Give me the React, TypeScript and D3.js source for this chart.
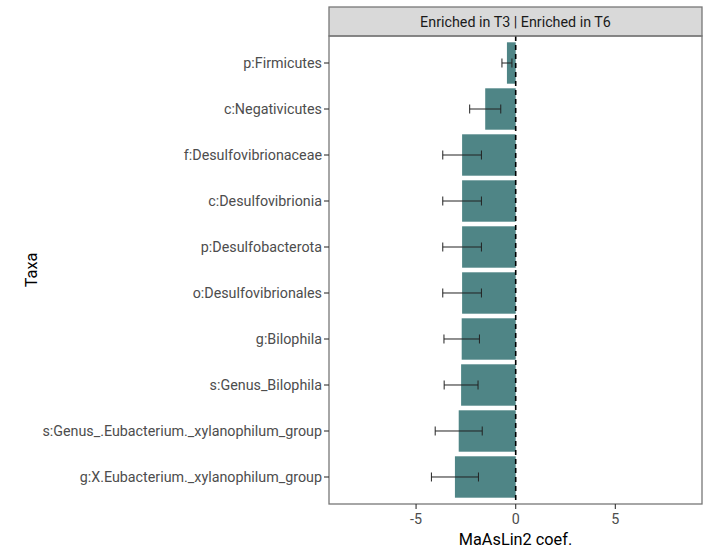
import React from "react";
import * as d3 from "d3";

const taxa = [
  "p:Firmicutes",
  "c:Negativicutes",
  "f:Desulfovibrionaceae",
  "c:Desulfovibrionia",
  "p:Desulfobacterota",
  "o:Desulfovibrionales",
  "g:Bilophila",
  "s:Genus_Bilophila",
  "s:Genus_.Eubacterium._xylanophilum_group",
  "g:X.Eubacterium._xylanophilum_group",
];
const coefs = [-0.44, -1.53, -2.69, -2.69, -2.69, -2.69, -2.71, -2.74, -2.86, -3.05];
const stderrs = [0.25, 0.78, 0.97, 0.97, 0.97, 0.97, 0.89, 0.85, 1.18, 1.18];
const xTicks = [-5, 0, 5];
const stripLabel = "Enriched in T3 | Enriched in T6";

const W = 710;
const H = 550;
const panel = { left: 329, right: 702, top: 36, bottom: 504 };
const strip = { top: 7, bottom: 36 };

export default function App() {
  const x = d3.scaleLinear().domain([-9.37, 9.35]).range([panel.left, panel.right]);
  const y = d3
    .scaleBand<string>()
    .domain(taxa)
    .range([panel.top, panel.bottom])
    .paddingInner(0.1)
    .paddingOuter(0.137);
  const bw = y.bandwidth();
  const font = "Roboto, 'Liberation Sans', Arial, sans-serif";
  const capH = 9;

  return (
    <svg width={W} height={H} style={{ position: "absolute", left: 0, top: 0 }} fontFamily={font}>
      <rect x={0} y={0} width={W} height={H} fill="#fff" />
      {/* strip */}
      <rect
        x={panel.left}
        y={strip.top}
        width={panel.right - panel.left}
        height={strip.bottom - strip.top}
        fill="#d9d9d9"
        stroke="#777"
        strokeWidth={1.3}
      />
      <text
        x={(panel.left + panel.right) / 2}
        y={(strip.top + strip.bottom) / 2}
        dy="0.36em"
        textAnchor="middle"
        fontSize={14.3}
        fill="#1a1a1a"
      >
        {stripLabel}
      </text>
      {/* bars */}
      {taxa.map((t, i) => {
        const x0 = x(Math.min(0, coefs[i]));
        const x1 = x(Math.max(0, coefs[i]));
        return (
          <rect key={t} x={x0} y={y(t)!} width={x1 - x0} height={bw} fill="#4f8586" />
        );
      })}
      {/* error bars */}
      {taxa.map((t, i) => {
        const cy = y(t)! + bw / 2;
        const lo = x(coefs[i] - stderrs[i]);
        const hi = x(coefs[i] + stderrs[i]);
        return (
          <g key={"e" + t} stroke="#222" strokeWidth={1}>
            <line x1={lo} x2={hi} y1={cy} y2={cy} />
            <line x1={lo} x2={lo} y1={cy - capH / 2} y2={cy + capH / 2} />
            <line x1={hi} x2={hi} y1={cy - capH / 2} y2={cy + capH / 2} />
          </g>
        );
      })}
      {/* zero line */}
      <line
        x1={x(0)}
        x2={x(0)}
        y1={panel.top}
        y2={panel.bottom}
        stroke="#000"
        strokeWidth={1.6}
        strokeDasharray="5,4"
      />
      {/* panel border */}
      <rect
        x={panel.left}
        y={panel.top}
        width={panel.right - panel.left}
        height={panel.bottom - panel.top}
        fill="none"
        stroke="#777"
        strokeWidth={1.3}
      />
      {/* y axis ticks & labels */}
      {taxa.map((t) => {
        const cy = y(t)! + bw / 2;
        return (
          <g key={"y" + t}>
            <line x1={panel.left - 5} x2={panel.left} y1={cy} y2={cy} stroke="#333" strokeWidth={1.1} />
            <text
              x={panel.left - 7}
              y={cy}
              dy="0.36em"
              textAnchor="end"
              fontSize={14.3}
              fill="#4d4d4d"
            >
              {t}
            </text>
          </g>
        );
      })}
      {/* x axis ticks */}
      {xTicks.map((v) => (
        <g key={"x" + v}>
          <line x1={x(v)} x2={x(v)} y1={panel.bottom} y2={panel.bottom + 5} stroke="#333" strokeWidth={1.1} />
          <text x={x(v)} y={panel.bottom + 20} textAnchor="middle" fontSize={14.3} fill="#4d4d4d">
            {v === 0 ? "0" : v < 0 ? "-" + Math.abs(v) : String(v)}
          </text>
        </g>
      ))}
      <text
        x={(panel.left + panel.right) / 2}
        y={545}
        textAnchor="middle"
        fontSize={16.3}
        fill="#000"
      >
        MaAsLin2 coef.
      </text>
      <text
        transform={`translate(37,${(panel.top + panel.bottom) / 2}) rotate(-90)`}
        textAnchor="middle"
        fontSize={16.3}
        fill="#000"
      >
        Taxa
      </text>
    </svg>
  );
}
